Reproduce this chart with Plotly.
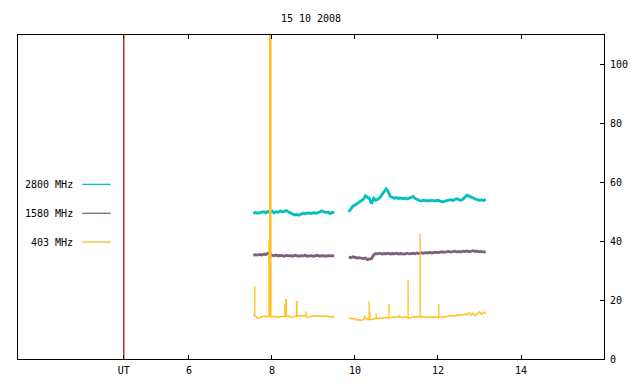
import numpy as np
import plotly.graph_objects as go

# ---- data (time in UT hours, flux values) ----
dt = 0.05
seg1_start = 7.55
seg2_start = 9.85

f2800_seg1 = [49.4, 49.8, 49.5, 49.6, 49.9, 50.0, 49.6, 50.1, 49.7, 50.2,
              49.6, 50.0, 49.8, 50.3, 49.9, 50.1, 50.4, 49.9, 49.5, 49.2,
              48.9, 49.1, 48.8, 49.2, 49.4, 49.3, 49.6, 49.5, 49.4, 49.7,
              49.5, 49.6, 49.9, 50.3, 50.0, 49.7, 49.9, 49.4, 49.8, 49.6]
f2800_seg2 = [49.9, 50.8, 51.9, 52.3, 52.8, 53.0, 53.6, 54.2, 55.4, 55.0,
              54.4, 52.7, 54.6, 53.9, 54.2, 54.8, 55.9, 57.0, 57.8, 56.9,
              55.2, 54.9, 54.6, 54.8, 54.5, 54.7, 54.4, 54.6, 54.3, 54.6,
              55.0, 55.2, 54.5, 54.0, 53.8, 53.6, 53.9, 53.7, 53.8, 53.6,
              53.9, 53.7, 53.8, 53.9, 53.6, 53.4, 53.5, 53.7, 53.9, 54.1,
              53.8, 54.2, 54.4, 54.1, 53.9, 54.2, 54.9, 55.6, 55.3, 54.9,
              54.6, 54.3, 54.1, 53.9, 54.0, 53.8, 54.3]

f1580_seg1 = [35.2, 35.4, 35.3, 35.5, 35.3, 35.6, 35.5, 35.9, 35.6, 35.2,
              35.1, 35.3, 35.0, 35.2, 35.1, 34.9, 35.2, 35.0, 35.1, 34.9,
              35.2, 35.0, 34.9, 35.1, 35.0, 35.2, 34.9, 35.0, 35.1, 34.9,
              35.0, 35.2, 34.9, 35.1, 35.0, 34.9, 35.1, 35.0, 34.9, 35.0]
f1580_seg2 = [34.6, 34.4, 34.7, 34.5, 34.3, 34.4, 34.2, 34.1, 34.3, 33.7,
              34.0, 34.1, 35.4, 35.8, 35.7, 35.9, 35.6, 35.8, 35.7, 35.9,
              35.6, 35.8, 35.7, 35.9, 35.6, 35.8, 35.7, 35.6, 35.9, 35.7,
              35.8, 35.9, 35.7, 36.0, 35.8, 36.1, 35.9, 36.1, 36.0, 36.2,
              36.0, 36.1, 36.3, 36.1, 36.2, 36.4, 36.2, 36.3, 36.5, 36.3,
              36.4, 36.6, 36.4, 36.5, 36.3, 36.6, 36.5, 36.7, 36.4, 36.6,
              36.8, 36.5, 36.6, 36.4, 36.5, 36.3, 36.5]

f403_seg1 = [15.0, 14.6, 13.8, 14.0, 14.3, 14.5, 14.4, 14.5, 14.4, 14.3,
             14.5, 14.2, 14.3, 14.4, 14.6, 14.5, 14.6, 14.6, 14.2, 14.3,
             14.5, 14.5, 14.7, 14.6, 14.8, 14.7, 14.2, 14.3, 14.6, 14.7,
             14.6, 14.7, 14.6, 14.5, 14.6, 14.4, 14.5, 14.3, 14.4, 14.1]
f403_seg2 = [13.8, 13.7, 13.8, 13.6, 13.2, 13.1, 13.2, 13.3, 14.0, 13.4,
             13.3, 13.4, 13.6, 13.7, 13.7, 13.8, 13.8, 13.9, 14.1, 14.0,
             14.2, 14.2, 14.1, 14.3, 14.4, 14.2, 14.1, 14.3, 14.2, 13.8,
             14.1, 14.3, 14.2, 14.4, 14.3, 14.2, 14.4, 14.1, 14.3, 14.2,
             14.1, 14.3, 14.2, 14.1, 14.3, 14.2, 14.3, 14.4, 14.5, 14.7,
             14.8, 14.6, 14.8, 15.0, 14.9, 15.1, 15.2, 15.0, 15.7, 14.8,
             15.6, 14.7, 15.3, 16.0, 15.2, 15.9, 15.5]

# 403 MHz bursts (time, peak)
spike_t = [7.585, 7.925, 7.945, 7.96, 7.975, 8.31, 8.33, 8.345, 8.59, 8.60,
           8.82, 10.23, 10.34, 10.36, 10.51, 10.82, 11.08, 11.28, 11.57, 12.02]
spike_v = [24.8, 40.4, 130.0, 130.0, 130.0, 18.7, 20.4, 20.4, 19.7, 19.7,
           16.3, 14.9, 19.4, 15.8, 15.6, 18.7, 15.0, 26.8, 42.5, 18.7]

ut_mark = 4.43
x_ticks = [ut_mark, 6, 8, 10, 12, 14]
x_labels = ["UT", "6", "8", "10", "12", "14"]
y_ticks = [0, 20, 40, 60, 80, 100]

names = ["2800 MHz", "1580 MHz", "403 MHz"]
colors = ["#00c0c0", "#7f5f7f", "#ffc020"]
title = "15 10 2008"

# ---- build ----
t1 = seg1_start + dt * np.arange(len(f2800_seg1))
t2 = seg2_start + dt * np.arange(len(f2800_seg2))


def joined(a, b):
    x = list(t1) + [None] + list(t2)
    y = list(a) + [None] + list(b)
    return x, y


FONT = "DejaVu Sans Mono"
fig = go.Figure()

for series, col, w in [((f2800_seg1, f2800_seg2), colors[0], 2.8),
                       ((f1580_seg1, f1580_seg2), colors[1], 2.8),
                       ((f403_seg1, f403_seg2), colors[2], 1.5)]:
    x, y = joined(*series)
    fig.add_trace(go.Scatter(x=x, y=y, mode="lines", line=dict(color=col, width=w),
                             connectgaps=False, showlegend=False, hoverinfo="skip"))

# bursts drawn as vertical strokes from baseline
tb = np.concatenate([t1, t2])
vb = np.array(f403_seg1 + f403_seg2)
sx, sy = [], []
for t, v in zip(spike_t, spike_v):
    base = float(np.interp(t, tb, vb))
    sx += [t, t, None]
    sy += [base, v, None]
fig.add_trace(go.Scatter(x=sx, y=sy, mode="lines", line=dict(color=colors[2], width=1.3),
                         showlegend=False, hoverinfo="skip"))

# UT marker line
fig.add_shape(type="line", x0=ut_mark, x1=ut_mark, y0=0, y1=1, xref="x", yref="y domain",
              line=dict(color="#a00000", width=1.2))

# legend in gnuplot style (text, then sample line)
leg_y = [0.539, 0.4497, 0.361]
for nm, col, yy in zip(names, colors, leg_y):
    fig.add_annotation(x=0.0973, y=yy, xref="paper", yref="paper", text=nm,
                       showarrow=False, xanchor="right", yanchor="middle",
                       font=dict(family=FONT, size=10, color="#000000"))
    fig.add_shape(type="line", x0=0.1097, x1=0.1582, y0=yy, y1=yy,
                  xref="paper", yref="paper", line=dict(color=col, width=1.3))

fig.update_layout(
    width=640, height=384,
    margin=dict(l=18, r=36, t=35, b=25),
    plot_bgcolor="white", paper_bgcolor="white",
    font=dict(family=FONT, size=10, color="#000000"),
    title=dict(text=title, x=0.5, xref="paper", y=1 - 18 / 384, yref="container",
               xanchor="center", yanchor="middle", font=dict(family=FONT, size=10)),
    showlegend=False,
    xaxis=dict(range=[1.88, 16.0], tickvals=x_ticks, ticktext=x_labels,
               ticks="inside", ticklen=4, tickwidth=1, tickcolor="#000000",
               showline=True, linecolor="#000000", linewidth=1, mirror="ticks",
               showgrid=False, zeroline=False, ticklabelstandoff=2, automargin=False),
    yaxis=dict(range=[0, 110], tickvals=y_ticks, side="right",
               ticks="inside", ticklen=4, tickwidth=1, tickcolor="#000000",
               showline=True, linecolor="#000000", linewidth=1, mirror=True,
               showgrid=False, zeroline=False, ticklabelstandoff=3, automargin=False),
)

fig.write_html("out.html", config={"displayModeBar": False},
               post_script="document.body.style.margin='0';")
